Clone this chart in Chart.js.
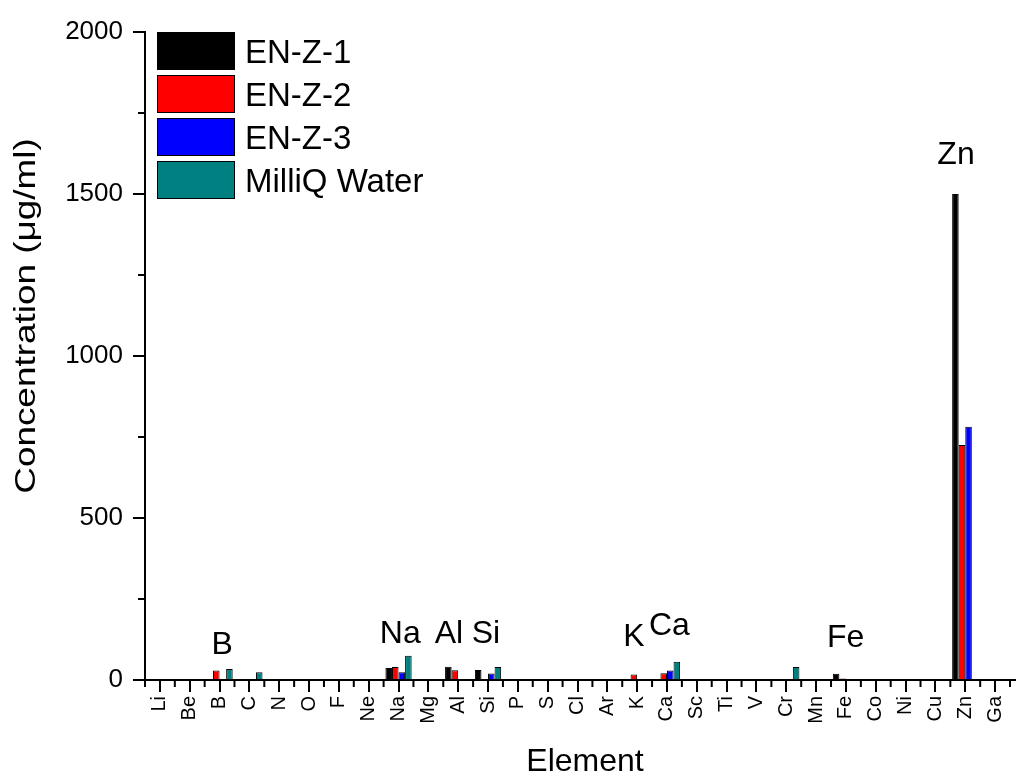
<!DOCTYPE html>
<html>
<head>
<meta charset="utf-8">
<script src="https://cdn.jsdelivr.net/npm/chart.js@4.4.1/dist/chart.umd.min.js"></script>
<style>
  body { margin: 0; background: #fff; }
  canvas { display: block; }
</style>
</head>
<body>
<canvas id="conc" width="1016" height="774"></canvas>
<script>
const elements = ["Li", "Be", "B", "C", "N", "O", "F", "Ne", "Na", "Mg", "Al", "Si", "P", "S", "Cl",
  "Ar", "K", "Ca", "Sc", "Ti", "V", "Cr", "Mn", "Fe", "Co", "Ni", "Cu", "Zn", "Ga"];

const enz1   = [0, 0, 3, 0, 0, 0, 0, 0, 37, 0, 41, 31, 0, 0, 0, 0, 0, 3, 0, 0, 0, 0, 0, 19, 0, 0, 0, 1500, 0];
const enz2   = [0, 0, 29, 0, 0, 0, 0, 0, 40, 0, 30, 2, 0, 0, 0, 0, 17, 21, 0, 0, 0, 0, 0, 5, 0, 0, 0, 725, 0];
const enz3   = [0, 0, 0, 0, 0, 0, 0, 0, 24, 0, 3, 20, 0, 0, 0, 0, 0, 29, 0, 0, 0, 0, 0, 2, 0, 0, 0, 782, 0];
const milliq = [0, 0, 34, 24, 0, 0, 0, 0, 75, 0, 0, 40, 0, 3, 0, 0, 0, 56, 0, 0, 0, 40, 0, 0, 0, 0, 0, 0, 0];

const seriesNames = ["EN-Z-1", "EN-Z-2", "EN-Z-3", "MilliQ Water"];
const yTicks = [0, 500, 1000, 1500, 2000];

// labels written over the peaks (category position, value at label centre)
const peakLabels = ["B", "Na", "Al", "Si", "K", "Ca", "Fe", "Zn"];
const peakAt     = [2.09, 8.06, 9.69, 10.93, 15.89, 17.08, 22.99, 26.69];
const peakHeight = [108, 142, 142, 142, 132, 166, 129, 1619];

const FONT = "'Liberation Sans', Arial, sans-serif";

const extras = {
  id: "extras",
  afterDraw(chart) {
    const ctx = chart.ctx;
    const xs = chart.scales.x, ys = chart.scales.y;
    const area = chart.chartArea;
    const y0 = ys.getPixelForValue(0);
    ctx.save();
    ctx.strokeStyle = "#000";
    ctx.lineWidth = 2;
    // x axis line runs on to the edge
    ctx.beginPath();
    ctx.moveTo(area.right, y0);
    ctx.lineTo(chart.width, y0);
    ctx.stroke();
    // minor ticks between categories
    ctx.beginPath();
    for (let i = 0; i <= elements.length; i++) {
      const px = xs.getPixelForValue(i - 0.5);
      ctx.moveTo(px, y0);
      ctx.lineTo(px, y0 + 7);
    }
    // minor ticks on y
    for (let i = 0; i < yTicks.length - 1; i++) {
      const py = ys.getPixelForValue((yTicks[i] + yTicks[i + 1]) / 2);
      ctx.moveTo(area.left, py);
      ctx.lineTo(area.left - 7, py);
    }
    ctx.stroke();

    // peak labels
    ctx.fillStyle = "#000";
    ctx.font = "32px " + FONT;
    ctx.textAlign = "center";
    ctx.textBaseline = "middle";
    peakLabels.forEach((t, i) => {
      ctx.fillText(t, xs.getPixelForValue(peakAt[i]), ys.getPixelForValue(peakHeight[i]));
    });

    // legend
    ctx.textAlign = "left";
    ctx.textBaseline = "alphabetic";
    ctx.font = "33px " + FONT;
    chart.data.datasets.forEach((ds, i) => {
      const top = 32 + i * 43;
      ctx.fillStyle = ds.backgroundColor;
      ctx.fillRect(157, top, 78, 38);
      ctx.lineWidth = 1;
      ctx.strokeStyle = "#000";
      ctx.strokeRect(157.5, top + 0.5, 77, 37);
      ctx.fillStyle = "#000";
      ctx.fillText(ds.label, 245, top + 31);
    });

    // axis titles
    ctx.font = "32px " + FONT;
    ctx.textAlign = "center";
    ctx.fillText("Element", 585, 771);
    ctx.translate(35, 316);
    ctx.rotate(-Math.PI / 2);
    ctx.scale(1.23, 1);
    ctx.font = "30px " + FONT;
    ctx.fillText("Concentration (\u03bcg/ml)", 0, 0);
    ctx.restore();
  }
};

const colors = ["#000000", "#ff0000", "#0000ff", "#008080"];
const values = [enz1, enz2, enz3, milliq];

const data = {
  labels: elements,
  datasets: seriesNames.map((name, i) => ({
    label: name,
    data: values[i],
    backgroundColor: colors[i],
    borderColor: "#000",
    borderWidth: 1,
    categoryPercentage: 0.88,
    barPercentage: 1.0
  }))
};

const config = {
  type: "bar",
  data: data,
  options: {
    responsive: false,
    animation: false,
    devicePixelRatio: 1,
    layout: { padding: { top: 32, right: 6, left: 0, bottom: 0 } },
    plugins: { legend: { display: false }, tooltip: { enabled: false } },
    scales: {
      x: {
        afterFit(scale) { scale.height = 94; scale.paddingLeft = 0; scale.paddingRight = 0; },
        grid: { display: true, drawOnChartArea: false, offset: false, color: "#000", lineWidth: 2, tickLength: 12 },
        border: { display: true, color: "#000", width: 2 },
        ticks: {
          autoSkip: false, minRotation: 90, maxRotation: 90, padding: 4,
          color: "#000", font: { family: FONT, size: 20 }
        }
      },
      y: {
        min: 0, max: 2000,
        afterFit(scale) { scale.width = 145; scale.paddingTop = 0; scale.paddingBottom = 0; },
        afterBuildTicks(scale) { scale.ticks = yTicks.map(v => ({ value: v })); },
        grid: { display: true, drawOnChartArea: false, color: "#000", lineWidth: 2, tickLength: 12 },
        border: { display: true, color: "#000", width: 2 },
        ticks: {
          padding: 10, color: "#000", font: { family: FONT, size: 26 },
          callback: v => String(v)
        }
      }
    }
  },
  plugins: [extras]
};

const chart = new Chart(document.getElementById("conc"), config);
</script>
</body>
</html>
